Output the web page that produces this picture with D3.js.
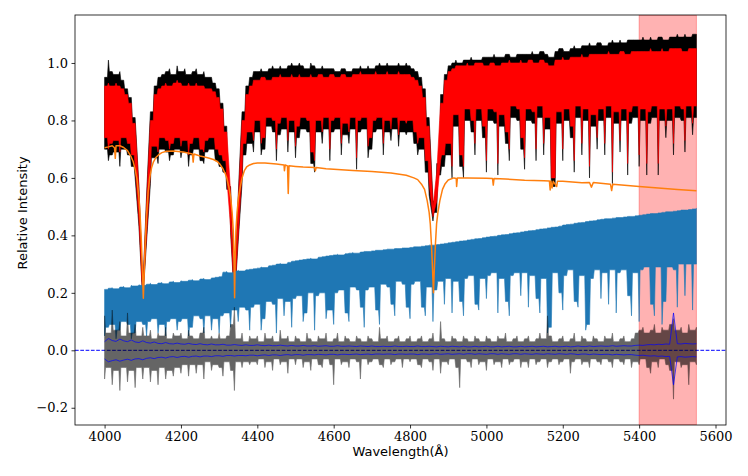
<!DOCTYPE html>
<html>
<head>
<meta charset="utf-8">
<script src="https://cdn.jsdelivr.net/npm/d3@7/dist/d3.min.js"></script>
<style>
  html, body { margin: 0; padding: 0; background: #fff; }
  svg { display: block; }
</style>
</head>
<body>
<svg id="chart" width="748" height="476"></svg>
<script>
// ---------------- DATA ----------------
// Spectra sampled on a 10 Å grid starting at 4000 Å (156 samples, 4000..5550 Å).
const gridStart = 4000, gridStep = 10;

// Observed spectrum (black): upper envelope / deepest point per 10 Å bin
const blackHi = [
  0.95,1.01,0.97,0.96,0.97,0.94,0.91,0.88,0.81,0.57,
  0.21,0.54,0.83,0.92,0.95,0.96,0.97,0.98,0.96,0.99,
  0.97,0.98,0.96,0.97,0.98,0.96,0.97,0.95,0.95,0.93,
  0.91,0.86,0.78,0.57,0.20,0.54,0.83,0.92,0.95,0.97,
  0.97,0.98,0.97,0.98,0.99,0.98,0.99,0.98,0.99,1.00,
  0.99,1.00,0.99,0.98,1.00,0.99,0.98,0.99,0.98,0.98,
  0.98,0.97,0.98,0.98,0.97,0.98,0.98,0.99,0.98,0.99,
  0.98,0.99,1.00,0.99,1.00,0.99,0.99,1.00,0.99,1.00,
  0.99,0.98,0.97,0.95,0.91,0.81,0.52,0.65,0.89,0.96,
  0.99,1.00,1.01,1.00,1.01,1.01,1.02,1.01,1.01,1.02,
  1.02,1.02,1.03,1.02,1.02,1.03,1.03,1.02,1.03,1.03,
  1.03,1.03,1.04,1.03,1.04,1.04,1.03,1.02,1.04,1.05,
  1.05,1.04,1.05,1.06,1.05,1.06,1.06,1.07,1.06,1.07,
  1.07,1.06,1.07,1.08,1.07,1.08,1.07,1.08,1.08,1.08,
  1.08,1.09,1.08,1.09,1.08,1.09,1.09,1.08,1.09,1.09,
  1.10,1.09,1.10,1.09,1.10,1.10
];
const blackLo = [
  0.70,0.66,0.68,0.69,0.64,0.70,0.68,0.64,0.60,0.43,
  0.17,0.38,0.58,0.67,0.65,0.70,0.69,0.66,0.68,0.70,
  0.67,0.69,0.64,0.68,0.70,0.66,0.65,0.69,0.70,0.66,
  0.64,0.62,0.56,0.41,0.17,0.38,0.58,0.68,0.72,0.69,
  0.76,0.68,0.70,0.78,0.76,0.66,0.75,0.77,0.69,0.76,
  0.67,0.74,0.77,0.76,0.65,0.62,0.76,0.72,0.77,0.66,
  0.76,0.77,0.68,0.75,0.72,0.77,0.63,0.76,0.77,0.67,
  0.70,0.76,0.77,0.68,0.76,0.73,0.77,0.71,0.76,0.75,
  0.76,0.72,0.68,0.70,0.62,0.54,0.45,0.48,0.61,0.64,
  0.68,0.60,0.78,0.64,0.60,0.80,0.76,0.68,0.80,0.74,
  0.62,0.80,0.79,0.61,0.78,0.72,0.66,0.81,0.80,0.70,
  0.63,0.80,0.79,0.66,0.81,0.68,0.77,0.57,0.57,0.79,
  0.66,0.80,0.74,0.62,0.81,0.68,0.80,0.60,0.78,0.70,
  0.80,0.68,0.81,0.58,0.79,0.69,0.80,0.61,0.79,0.81,
  0.64,0.80,0.61,0.79,0.81,0.61,0.80,0.74,0.80,0.68,
  0.81,0.80,0.69,0.81,0.75,0.81
];

// Fitted spectrum (red)
const redHi = [
  0.92,0.93,0.92,0.93,0.92,0.91,0.89,0.86,0.79,0.56,
  0.20,0.52,0.80,0.89,0.91,0.92,0.93,0.92,0.93,0.94,
  0.93,0.92,0.93,0.92,0.93,0.92,0.92,0.91,0.91,0.90,
  0.88,0.84,0.76,0.55,0.19,0.52,0.80,0.89,0.92,0.94,
  0.94,0.95,0.95,0.94,0.95,0.95,0.96,0.95,0.95,0.96,
  0.95,0.96,0.95,0.95,0.96,0.95,0.96,0.96,0.95,0.96,
  0.96,0.95,0.96,0.96,0.95,0.96,0.96,0.97,0.96,0.96,
  0.96,0.97,0.96,0.96,0.97,0.96,0.96,0.97,0.96,0.96,
  0.96,0.95,0.94,0.92,0.88,0.78,0.50,0.62,0.86,0.94,
  0.97,0.98,0.99,0.99,0.99,1.00,0.99,1.00,1.00,1.00,
  0.99,1.00,1.00,0.99,1.00,1.00,1.01,1.00,1.00,1.01,
  1.00,1.01,1.01,1.00,1.01,1.01,1.00,0.99,1.01,1.01,
  1.02,1.01,1.02,1.02,1.02,1.03,1.02,1.03,1.03,1.03,
  1.03,1.03,1.04,1.03,1.03,1.04,1.04,1.03,1.04,1.04,
  1.04,1.04,1.04,1.05,1.04,1.04,1.05,1.04,1.05,1.05,
  1.05,1.05,1.04,1.05,1.05,1.05
];
const redLo = [
  0.74,0.70,0.72,0.73,0.69,0.74,0.72,0.68,0.64,0.45,
  0.18,0.40,0.62,0.71,0.69,0.74,0.73,0.70,0.72,0.74,
  0.71,0.73,0.68,0.72,0.74,0.70,0.69,0.73,0.74,0.70,
  0.68,0.66,0.60,0.43,0.18,0.40,0.62,0.72,0.76,0.73,
  0.80,0.72,0.74,0.81,0.80,0.70,0.79,0.81,0.73,0.80,
  0.71,0.78,0.81,0.80,0.69,0.66,0.80,0.76,0.81,0.70,
  0.80,0.81,0.72,0.79,0.76,0.81,0.67,0.80,0.81,0.71,
  0.74,0.80,0.81,0.72,0.80,0.77,0.81,0.75,0.80,0.79,
  0.80,0.76,0.72,0.74,0.66,0.58,0.465,0.52,0.66,0.68,
  0.72,0.64,0.82,0.68,0.64,0.84,0.80,0.72,0.84,0.78,
  0.66,0.84,0.83,0.65,0.82,0.76,0.70,0.85,0.84,0.74,
  0.67,0.84,0.83,0.70,0.85,0.72,0.81,0.60,0.60,0.83,
  0.70,0.84,0.78,0.66,0.85,0.72,0.84,0.64,0.82,0.74,
  0.84,0.72,0.85,0.62,0.83,0.73,0.84,0.65,0.83,0.85,
  0.68,0.84,0.65,0.83,0.85,0.65,0.84,0.78,0.84,0.72,
  0.85,0.84,0.73,0.85,0.79,0.85
];

// Blue spectrum
const blueHi = [
  0.212,0.216,0.218,0.214,0.220,0.222,0.218,0.226,0.224,0.228,
  0.226,0.230,0.233,0.229,0.234,0.236,0.232,0.238,0.240,0.236,
  0.242,0.240,0.244,0.246,0.242,0.248,0.250,0.246,0.252,0.254,
  0.256,0.272,0.274,0.270,0.276,0.278,0.276,0.280,0.282,0.284,
  0.286,0.290,0.288,0.294,0.296,0.300,0.302,0.300,0.306,0.310,
  0.312,0.314,0.316,0.318,0.320,0.318,0.324,0.326,0.328,0.330,
  0.332,0.334,0.332,0.336,0.338,0.340,0.338,0.342,0.344,0.344,
  0.346,0.348,0.348,0.350,0.352,0.352,0.354,0.354,0.356,0.356,
  0.358,0.360,0.360,0.362,0.364,0.366,0.366,0.368,0.370,0.372,
  0.374,0.376,0.378,0.380,0.381,0.384,0.386,0.388,0.389,0.392,
  0.394,0.396,0.397,0.400,0.402,0.403,0.406,0.408,0.409,0.412,
  0.414,0.416,0.417,0.420,0.422,0.423,0.426,0.428,0.429,0.432,
  0.436,0.438,0.439,0.442,0.444,0.445,0.448,0.450,0.451,0.454,
  0.456,0.458,0.458,0.460,0.462,0.462,0.464,0.466,0.466,0.468,
  0.470,0.472,0.474,0.476,0.476,0.478,0.480,0.482,0.482,0.484,
  0.486,0.488,0.488,0.490,0.492,0.494
];
const blueLo = [
  0.05,0.08,0.09,0.04,0.07,0.10,0.09,0.04,0.06,0.10,
  0.09,0.05,0.10,0.11,0.06,0.09,0.05,0.10,0.11,0.07,
  0.10,0.11,0.05,0.08,0.12,0.11,0.06,0.12,0.07,0.11,
  0.06,0.12,0.13,0.08,0.14,0.10,0.15,0.14,0.07,0.15,
  0.16,0.07,0.11,0.17,0.16,0.06,0.18,0.12,0.17,0.08,
  0.18,0.19,0.10,0.13,0.20,0.07,0.19,0.20,0.11,0.14,
  0.09,0.20,0.21,0.13,0.10,0.22,0.21,0.15,0.08,0.21,
  0.22,0.14,0.09,0.23,0.22,0.16,0.12,0.24,0.23,0.15,
  0.11,0.23,0.24,0.15,0.12,0.22,0.10,0.21,0.24,0.16,
  0.25,0.13,0.24,0.17,0.12,0.25,0.26,0.16,0.14,0.25,
  0.18,0.26,0.27,0.13,0.25,0.17,0.12,0.26,0.27,0.19,
  0.27,0.15,0.26,0.18,0.13,0.25,0.06,0.08,0.27,0.20,
  0.14,0.26,0.28,0.17,0.15,0.26,0.07,0.09,0.25,0.28,
  0.18,0.27,0.16,0.28,0.13,0.27,0.28,0.19,0.12,0.27,
  0.10,0.28,0.29,0.16,0.12,0.29,0.09,0.17,0.29,0.28,
  0.15,0.30,0.19,0.30,0.14,0.30
];

// Residuals (grey)
const residHi = [
  0.12,0.06,0.14,0.07,0.10,0.05,0.13,0.06,0.09,0.05,
  0.08,0.05,0.07,0.04,0.06,0.05,0.08,0.04,0.06,0.05,
  0.06,0.04,0.07,0.05,0.04,0.06,0.08,0.04,0.05,0.04,
  0.06,0.04,0.05,0.09,0.15,0.04,0.06,0.03,0.05,0.04,
  0.05,0.03,0.06,0.04,0.05,0.03,0.07,0.04,0.05,0.03,
  0.05,0.04,0.03,0.06,0.04,0.03,0.05,0.04,0.06,0.03,
  0.04,0.06,0.03,0.05,0.04,0.03,0.05,0.04,0.03,0.05,
  0.04,0.03,0.08,0.04,0.05,0.03,0.04,0.05,0.03,0.04,
  0.05,0.03,0.04,0.05,0.03,0.04,0.06,0.03,0.10,0.04,
  0.03,0.05,0.04,0.03,0.05,0.04,0.03,0.05,0.04,0.03,
  0.05,0.04,0.03,0.05,0.04,0.06,0.03,0.04,0.05,0.03,
  0.04,0.05,0.03,0.04,0.06,0.04,0.12,0.05,0.03,0.04,
  0.05,0.03,0.04,0.06,0.03,0.05,0.04,0.03,0.05,0.04,
  0.03,0.05,0.04,0.06,0.03,0.04,0.05,0.03,0.04,0.06,
  0.07,0.08,0.06,0.07,0.09,0.06,0.08,0.07,0.09,0.11,
  0.07,0.08,0.06,0.09,0.07,0.08
];
const residLo = [
  -0.10,-0.06,-0.12,-0.07,-0.14,-0.06,-0.11,-0.07,-0.13,-0.06,
  -0.10,-0.06,-0.11,-0.07,-0.12,-0.06,-0.10,-0.07,-0.09,-0.06,
  -0.08,-0.05,-0.09,-0.05,-0.08,-0.05,-0.10,-0.04,-0.07,-0.05,
  -0.06,-0.09,-0.04,-0.07,-0.14,-0.04,-0.06,-0.04,-0.05,-0.04,
  -0.05,-0.03,-0.06,-0.04,-0.07,-0.03,-0.05,-0.04,-0.08,-0.03,
  -0.05,-0.03,-0.06,-0.04,-0.07,-0.03,-0.05,-0.06,-0.03,-0.05,
  -0.12,-0.03,-0.05,-0.04,-0.06,-0.03,-0.04,-0.10,-0.03,-0.05,
  -0.04,-0.03,-0.05,-0.06,-0.03,-0.05,-0.04,-0.03,-0.06,-0.03,
  -0.04,-0.03,-0.05,-0.06,-0.03,-0.04,-0.07,-0.03,-0.08,-0.04,
  -0.05,-0.03,-0.06,-0.13,-0.03,-0.04,-0.06,-0.03,-0.05,-0.04,
  -0.07,-0.03,-0.05,-0.04,-0.06,-0.03,-0.05,-0.04,-0.03,-0.06,
  -0.04,-0.06,-0.03,-0.05,-0.04,-0.03,-0.06,-0.04,-0.03,-0.05,
  -0.04,-0.03,-0.08,-0.04,-0.03,-0.05,-0.04,-0.06,-0.03,-0.04,
  -0.05,-0.03,-0.04,-0.06,-0.03,-0.04,-0.05,-0.03,-0.06,-0.04,
  -0.05,-0.03,-0.06,-0.08,-0.04,-0.06,-0.03,-0.05,-0.07,-0.17,
  -0.04,-0.06,-0.05,-0.12,-0.04,-0.05
];

// Error envelope (blue lines, +/-)
const errUp = [
  0.030,0.041,0.034,0.031,0.039,0.033,0.030,0.036,0.029,0.027,
  0.033,0.027,0.025,0.029,0.024,0.023,0.027,0.023,0.022,0.025,
  0.022,0.021,0.024,0.021,0.020,0.023,0.020,0.019,0.022,0.019,
  0.019,0.021,0.018,0.018,0.020,0.018,0.017,0.019,0.017,0.017,
  0.019,0.017,0.016,0.018,0.016,0.016,0.018,0.016,0.015,0.017,
  0.015,0.015,0.017,0.015,0.015,0.016,0.014,0.015,0.016,0.014,
  0.014,0.016,0.014,0.014,0.015,0.014,0.013,0.015,0.014,0.013,
  0.015,0.013,0.013,0.014,0.013,0.013,0.015,0.013,0.013,0.014,
  0.013,0.013,0.015,0.013,0.013,0.014,0.013,0.012,0.014,0.013,
  0.012,0.014,0.013,0.012,0.014,0.012,0.012,0.014,0.012,0.013,
  0.014,0.012,0.012,0.014,0.012,0.013,0.014,0.012,0.012,0.014,
  0.012,0.013,0.014,0.012,0.013,0.014,0.012,0.013,0.014,0.012,
  0.013,0.014,0.012,0.013,0.015,0.013,0.013,0.015,0.013,0.014,
  0.015,0.014,0.014,0.016,0.014,0.015,0.016,0.015,0.015,0.017,
  0.018,0.017,0.019,0.020,0.019,0.021,0.020,0.022,0.021,0.130,
  0.023,0.022,0.024,0.023,0.022,0.023
];
const errDown = [
  -0.030,-0.040,-0.036,-0.033,-0.038,-0.034,-0.031,-0.035,-0.030,-0.029,
  -0.033,-0.028,-0.026,-0.029,-0.025,-0.024,-0.027,-0.023,-0.022,-0.025,
  -0.022,-0.021,-0.024,-0.021,-0.020,-0.023,-0.020,-0.020,-0.022,-0.019,
  -0.019,-0.021,-0.018,-0.018,-0.020,-0.018,-0.018,-0.019,-0.017,-0.017,
  -0.019,-0.017,-0.016,-0.018,-0.016,-0.016,-0.018,-0.016,-0.015,-0.017,
  -0.015,-0.015,-0.017,-0.015,-0.015,-0.016,-0.014,-0.015,-0.016,-0.014,
  -0.014,-0.016,-0.014,-0.014,-0.015,-0.014,-0.013,-0.015,-0.014,-0.013,
  -0.015,-0.013,-0.013,-0.014,-0.013,-0.013,-0.015,-0.013,-0.013,-0.014,
  -0.013,-0.013,-0.015,-0.013,-0.013,-0.014,-0.013,-0.012,-0.014,-0.013,
  -0.012,-0.014,-0.013,-0.012,-0.014,-0.012,-0.012,-0.014,-0.012,-0.013,
  -0.014,-0.012,-0.012,-0.014,-0.012,-0.013,-0.014,-0.012,-0.012,-0.014,
  -0.012,-0.013,-0.014,-0.012,-0.013,-0.014,-0.012,-0.013,-0.014,-0.012,
  -0.013,-0.014,-0.012,-0.013,-0.015,-0.013,-0.013,-0.015,-0.013,-0.014,
  -0.015,-0.014,-0.014,-0.016,-0.014,-0.015,-0.016,-0.015,-0.015,-0.017,
  -0.018,-0.017,-0.019,-0.020,-0.019,-0.021,-0.020,-0.022,-0.021,-0.120,
  -0.023,-0.022,-0.024,-0.023,-0.022,-0.023
];

// Model (orange) sampled at irregular wavelengths
const modelWave = [4000,4010,4020,4026,4028,4030,4040,4050,4060,4070,4075,4080,4085,4090,4093,4096,4099,4101.5,4104,4107,4110,4114,4118,4123,4128,4135,4141,4150,4162,4180,4206,4230,4232,4234,4250,4270,4285,4295,4302,4310,4316,4320,4326,4330,4334,4337,4339,4340.5,4342,4344,4347,4351,4355,4360,4366,4372,4380,4390,4400,4420,4450,4470,4471,4473,4479,4481,4483,4500,4520,4550,4552,4554,4580,4600,4650,4700,4750,4790,4810,4820,4830,4838,4845,4850,4853,4856,4859,4861.3,4863.5,4866.5,4869.5,4873,4878,4885,4892,4900,4915,4921,4922,4924,4950,5000,5016,5018,5020,5050,5100,5150,5165,5167,5169,5172,5175,5184,5186,5200,5250,5270,5275,5280,5325,5328,5331,5400,5450,5500,5550];
const modelFlux = [0.705,0.708,0.712,0.705,0.668,0.712,0.712,0.706,0.695,0.672,0.656,0.630,0.595,0.530,0.470,0.390,0.280,0.181,0.280,0.390,0.470,0.550,0.600,0.635,0.656,0.672,0.680,0.688,0.693,0.694,0.690,0.683,0.655,0.683,0.676,0.670,0.664,0.657,0.648,0.632,0.615,0.600,0.565,0.534,0.480,0.418,0.320,0.183,0.320,0.418,0.480,0.534,0.565,0.600,0.625,0.638,0.645,0.650,0.652,0.652,0.648,0.645,0.625,0.645,0.642,0.546,0.642,0.640,0.638,0.636,0.625,0.636,0.632,0.630,0.626,0.622,0.617,0.609,0.600,0.594,0.578,0.560,0.520,0.480,0.440,0.370,0.280,0.200,0.280,0.370,0.440,0.480,0.520,0.560,0.580,0.593,0.600,0.598,0.570,0.600,0.600,0.599,0.598,0.575,0.598,0.596,0.592,0.590,0.589,0.558,0.589,0.565,0.588,0.570,0.588,0.588,0.583,0.584,0.568,0.584,0.578,0.556,0.578,0.570,0.565,0.560,0.555];

// Masked wavelength window (shaded)
const maskRange = [5400, 5550];

// Axis ticks
const xTicks = [4000, 4200, 4400, 4600, 4800, 5000, 5200, 5400, 5600];
const yTicks = [-0.2, 0.0, 0.2, 0.4, 0.6, 0.8, 1.0];
const xLabel = "Wavelength(Å)";
const yLabel = "Relative Intensity";

// ---------------- DRAWING ----------------
const W = 748, H = 476;
const margin = {left: 75, top: 15, right: 22, bottom: 51};
const svg = d3.select("#chart");

const x = d3.scaleLinear().domain([3922.5, 5627.5]).range([margin.left, W - margin.right]);
const y = d3.scaleLinear().domain([-0.26, 1.167]).range([H - margin.bottom, margin.top]);

const gridWave = i => gridStart + i * gridStep;

// Build band points with narrow spikes (shoulders between samples)
function bandPoints(hi, lo) {
  const pts = [];
  const n = hi.length, h = 2.5;
  for (let i = 0; i < n; i++) {
    const w = gridWave(i);
    pts.push({w: w, t: hi[i], b: lo[i]});
    if (i < n - 1) {
      const tS = Math.min(hi[i], hi[i + 1]);
      const bS = Math.max(lo[i], lo[i + 1]);
      if (tS > bS) {
        pts.push({w: w + h, t: tS, b: bS});
        pts.push({w: w + gridStep - h, t: tS, b: bS});
      } else {
        const f = h / gridStep;
        pts.push({w: w + h, t: hi[i] + (hi[i + 1] - hi[i]) * f, b: lo[i] + (lo[i + 1] - lo[i]) * f});
        pts.push({w: w + gridStep - h, t: hi[i] + (hi[i + 1] - hi[i]) * (1 - f), b: lo[i] + (lo[i + 1] - lo[i]) * (1 - f)});
      }
    }
  }
  return pts;
}

const area = d3.area()
  .x(d => x(d.w))
  .y0(d => y(d.b))
  .y1(d => y(d.t));

const plot = svg.append("g");

svg.append("defs").append("clipPath").attr("id", "clip")
  .append("rect")
  .attr("x", margin.left).attr("y", margin.top)
  .attr("width", W - margin.left - margin.right)
  .attr("height", H - margin.top - margin.bottom);
plot.attr("clip-path", "url(#clip)");

// masked window
plot.append("rect")
  .attr("x", x(maskRange[0]))
  .attr("y", margin.top)
  .attr("width", x(maskRange[1]) - x(maskRange[0]))
  .attr("height", H - margin.top - margin.bottom)
  .attr("fill", "rgba(255,0,0,0.3)")
  .attr("stroke", "rgba(255,0,0,0.3)")
  .attr("stroke-width", 1);

function drawBand(hi, lo, color, opacity) {
  const g = plot.append("g").attr("opacity", opacity);
  g.append("path")
    .attr("d", area(bandPoints(hi, lo)))
    .attr("fill", color)
    .attr("stroke", color)
    .attr("stroke-width", 0.6)
    .attr("stroke-linejoin", "round");
}

drawBand(blackHi, blackLo, "#000000", 1);
drawBand(redHi, redLo, "#ff0000", 1);
drawBand(blueHi, blueLo, "#1f77b4", 1);

// model line
const modelLine = d3.line().x((d, i) => x(modelWave[i])).y(d => y(d));
plot.append("path")
  .attr("d", modelLine(modelFlux))
  .attr("fill", "none")
  .attr("stroke", "#ff7f0e")
  .attr("stroke-width", 1.5)
  .attr("stroke-linejoin", "round");

// zero line (dashed)
plot.append("line")
  .attr("x1", margin.left).attr("x2", W - margin.right)
  .attr("y1", y(0)).attr("y2", y(0))
  .attr("stroke", "#0000ff")
  .attr("stroke-width", 1)
  .attr("stroke-dasharray", "3.7,1.6");

// residuals
drawBand(residHi, residLo, "#000000", 0.6);

// error envelope
const gridLine = d3.line().x((d, i) => x(gridWave(i))).y(d => y(d));
[errUp, errDown].forEach(arr => {
  plot.append("path")
    .attr("d", gridLine(arr))
    .attr("fill", "none")
    .attr("stroke", "rgba(0,0,255,0.7)")
    .attr("stroke-width", 1);
});

// axes
const xAxis = d3.axisBottom(x).tickValues(xTicks).tickSize(3.5).tickPadding(3.5).tickFormat(d3.format("d"));
const yAxis = d3.axisLeft(y).tickValues(yTicks).tickSize(3.5).tickPadding(3.5).tickFormat(d3.format(".1f"));

const gx = svg.append("g").attr("transform", `translate(0,${H - margin.bottom})`).call(xAxis);
const gy = svg.append("g").attr("transform", `translate(${margin.left},0)`).call(yAxis);
[gx, gy].forEach(g => {
  g.select(".domain").remove();
  g.selectAll(".tick line").attr("stroke", "#000").attr("stroke-width", 0.8);
  g.selectAll(".tick text")
    .attr("font-family", "'DejaVu Serif', serif")
    .attr("font-size", 13)
    .attr("fill", "#000");
});

// frame
svg.append("rect")
  .attr("x", margin.left).attr("y", margin.top)
  .attr("width", W - margin.left - margin.right)
  .attr("height", H - margin.top - margin.bottom)
  .attr("fill", "none")
  .attr("stroke", "#000")
  .attr("stroke-width", 0.8);

// axis labels
svg.append("text")
  .attr("x", (margin.left + W - margin.right) / 2)
  .attr("y", 456)
  .attr("text-anchor", "middle")
  .attr("font-family", "'DejaVu Sans', sans-serif")
  .attr("font-size", 13)
  .text(xLabel);

svg.append("text")
  .attr("transform", `translate(27,213) rotate(-90)`)
  .attr("text-anchor", "middle")
  .attr("font-family", "'DejaVu Sans', sans-serif")
  .attr("font-size", 13)
  .text(yLabel);
</script>
</body>
</html>
